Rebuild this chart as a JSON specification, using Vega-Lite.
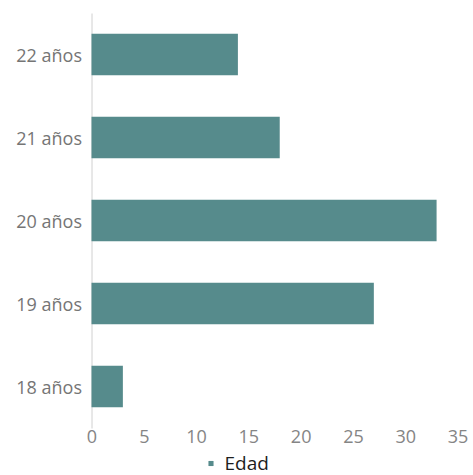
{
  "$schema": "https://vega.github.io/schema/vega-lite/v6.json",
  "autosize": "none",
  "padding": {"left": 91.5, "top": 13, "right": 15.5, "bottom": 47},
  "width": 366,
  "height": 415,
  "background": "white",
  "view": {"stroke": null},
  "data": {
    "values": [
      {"edad": "22 años", "valor": 14},
      {"edad": "21 años", "valor": 18},
      {"edad": "20 años", "valor": 33},
      {"edad": "19 años", "valor": 27},
      {"edad": "18 años", "valor": 3}
    ]
  },
  "mark": {"type": "bar"},
  "encoding": {
    "y": {
      "field": "edad",
      "type": "nominal",
      "sort": ["22 años", "21 años", "20 años", "19 años", "18 años"],
      "scale": {"paddingInner": 0.5, "paddingOuter": 0.25},
      "axis": {
        "title": null,
        "domainColor": "#d0d0d0",
        "domainWidth": 1,
        "ticks": false,
        "labelPadding": 10,
        "labelFont": "Open Sans",
        "labelFontSize": 18,
        "labelColor": "#757575",
        "labelOffset": 2
      }
    },
    "x": {
      "field": "valor",
      "type": "quantitative",
      "scale": {"domain": [0, 35]},
      "axis": {
        "title": null,
        "values": [0, 5, 10, 15, 20, 25, 30, 35],
        "grid": false,
        "domain": false,
        "ticks": false,
        "labelPadding": 0,
        "labelFont": "Open Sans",
        "labelFontSize": 18,
        "labelColor": "#858585",
        "labelFlush": false
      }
    },
    "color": {
      "datum": "Edad",
      "type": "nominal",
      "scale": {"range": ["#568b8c"]},
      "legend": {
        "title": null,
        "orient": "none",
        "legendX": 110,
        "legendY": 441,
        "symbolType": "square",
        "symbolSize": 26,
        "labelFont": "Open Sans",
        "labelFontSize": 19,
        "labelColor": "#1e1e1e",
        "labelOffset": 4
      }
    }
  }
}
